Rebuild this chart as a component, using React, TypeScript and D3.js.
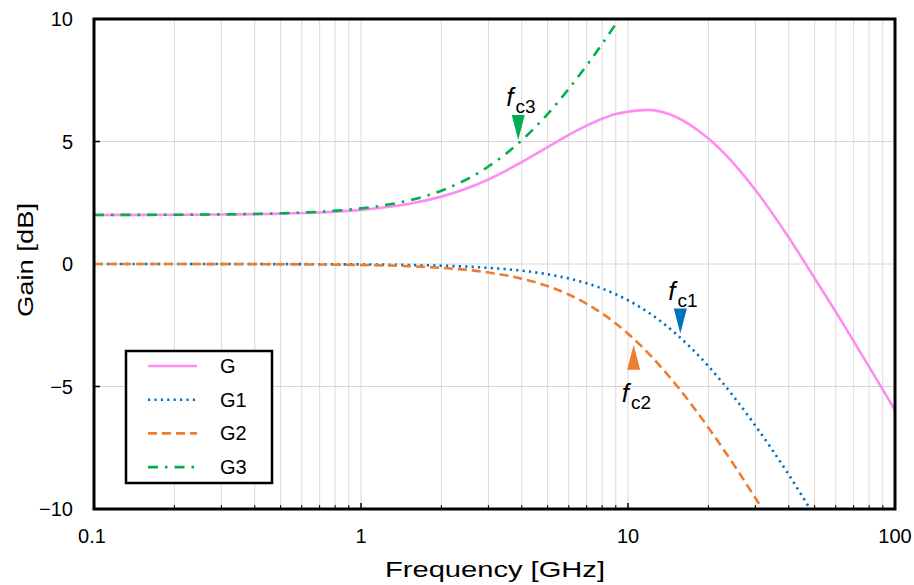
import React from "react";
import * as d3 from "d3";

const freqG = [0.1, 0.2, 0.3, 0.5, 0.7, 1, 1.5, 2, 3, 4, 5, 6, 7, 8, 9, 10, 12, 15, 20, 25, 30, 40, 50, 60, 70, 80, 100];
const gainG = [2.0, 2.01, 2.02, 2.055, 2.105, 2.21, 2.45, 2.75, 3.45, 4.16, 4.77, 5.27, 5.65, 5.93, 6.12, 6.22, 6.29, 6.02, 5.12, 4.08, 3.02, 1.08, -0.58, -1.95, -3.15, -4.2, -5.96];

const freqG1 = [0.1, 0.2, 0.3, 0.5, 0.7, 1, 1.5, 2, 3, 4, 5, 6, 7, 8, 9, 10, 12, 15, 20, 25, 30, 40, 50];
const gainG1 = [0, 0, -0.002, -0.004, -0.009, -0.018, -0.039, -0.07, -0.156, -0.273, -0.419, -0.592, -0.787, -1.003, -1.235, -1.479, -1.999, -2.816, -4.17, -5.44, -6.6, -8.6, -10.3];

const freqG2 = [0.1, 0.2, 0.3, 0.5, 0.7, 1, 1.5, 2, 3, 4, 5, 6, 7, 8, 9, 10, 12, 15, 20, 25, 30, 40];
const gainG2 = [0, -0.002, -0.004, -0.01, -0.02, -0.04, -0.089, -0.158, -0.347, -0.599, -0.903, -1.247, -1.623, -2.019, -2.428, -2.844, -3.676, -4.88, -6.68, -8.22, -9.55, -11.75];

const freqG3 = [0.1, 0.2, 0.3, 0.5, 0.7, 1, 1.5, 2, 3, 4, 5, 6, 7, 8, 9, 10];
const gainG3 = [2.003, 2.011, 2.025, 2.069, 2.134, 2.27, 2.585, 2.991, 3.978, 5.05, 6.12, 7.15, 8.1, 8.98, 9.8, 10.55];

const xTickLabels = ["0.1", "1", "10", "100"];
const xTickValues = [0.1, 1, 10, 100];
const yTickValues = [-10, -5, 0, 5, 10];
const yTickLabels = ["\u221210", "\u22125", "0", "5", "10"];

// markers: frequency, gain at tip, direction
const markerNames = ["c3", "c1", "c2"];
const markerFreq = [3.88, 15.7, 10.5];
const markerGain = [5.06, -2.84, -3.3];
const markerDir = ["down", "down", "up"];

const legendNames = ["G", "G1", "G2", "G3"];

const W = 914, H = 585;
const L = 94, R = 895, T = 19, B = 509;
const FONT = "'Liberation Sans', Arial, sans-serif";

const colors = ["#FF8CF2", "#0070C0", "#ED7D31", "#00B050"];
const dashes = ["none", "2.2,4.2", "9,5", "10,7,2.5,7"];

export default function App() {
  const x = d3.scaleLog().domain([0.1, 100]).range([L, R]);
  const y = d3.scaleLinear().domain([-10, 10]).range([B, T]);

  const minor: number[] = [];
  for (let d = -1; d < 2; d++) {
    for (let k = 1; k <= 9; k++) minor.push(k * Math.pow(10, d));
  }
  minor.push(100);

  const line = (fs: number[], gs: number[]) =>
    d3.line<number>()
      .x((_, i) => x(fs[i]))
      .y((g) => y(g))
      .curve(d3.curveMonotoneX)(gs) || "";

  const series = [
    [freqG, gainG],
    [freqG1, gainG1],
    [freqG2, gainG2],
    [freqG3, gainG3],
  ];
  const markerColors = [colors[3], colors[1], colors[2]];

  return (
    <svg width={W} height={H} style={{ position: "absolute", left: 0, top: 0 }} fontFamily={FONT}>
      <rect x={0} y={0} width={W} height={H} fill="#fff" />
      <defs>
        <clipPath id="plot">
          <rect x={L} y={T} width={R - L} height={B - T} />
        </clipPath>
      </defs>
      {/* grid */}
      {minor.map((v, i) => (
        <line key={"gx" + i} x1={x(v)} x2={x(v)} y1={T} y2={B} stroke="#dadada" strokeWidth={1} />
      ))}
      {yTickValues.map((v, i) => (
        <line key={"gy" + i} x1={L} x2={R} y1={y(v)} y2={y(v)} stroke="#d6d6d6" strokeWidth={1} />
      ))}
      {/* ticks */}
      {minor.map((v, i) => {
        const major = xTickValues.includes(v);
        return <line key={"tx" + i} x1={x(v)} x2={x(v)} y1={B} y2={B - (major ? 6 : 4)} stroke="#000" strokeWidth={major ? 1.5 : 1} />;
      })}
      {yTickValues.map((v, i) => (
        <line key={"ty" + i} x1={L} x2={L + 6} y1={y(v)} y2={y(v)} stroke="#000" strokeWidth={1.5} />
      ))}
      {/* series */}
      <g clipPath="url(#plot)">
        {series.map((s, i) => (
          <path key={"s" + i} d={line(s[0], s[1])} fill="none" stroke={colors[i]} strokeWidth={2.6}
            strokeDasharray={dashes[i]} />
        ))}
      </g>
      {/* frame */}
      <rect x={L} y={T} width={R - L} height={B - T} fill="none" stroke="#000" strokeWidth={3} />
      {/* tick labels */}
      {xTickValues.map((v, i) => (
        <text key={"xl" + i} x={x(v) - (i === 0 ? 2 : 0)} y={543} fontSize={20} textAnchor="middle" fill="#000">{xTickLabels[i]}</text>
      ))}
      {yTickValues.map((v, i) => (
        <text key={"yl" + i} x={73} y={y(v) + 7} fontSize={20} textAnchor="end" fill="#000">{yTickLabels[i]}</text>
      ))}
      {/* axis titles */}
      <text x={385} y={577} fontSize={22} textLength={220} lengthAdjust="spacingAndGlyphs" fill="#000">Frequency [GHz]</text>
      <text transform={`translate(33,317) rotate(-90)`} fontSize={22} textLength={114} lengthAdjust="spacingAndGlyphs" fill="#000">Gain [dB]</text>
      {/* markers */}
      {markerNames.map((n, i) => {
        const tx = x(markerFreq[i]);
        const ty = y(markerGain[i]);
        const dir = markerDir[i];
        const h = 25, w = 13;
        const baseY = dir === "down" ? ty - h : ty + h;
        const pts = `${tx},${ty} ${tx - w / 2},${baseY} ${tx + w / 2},${baseY}`;
        const labelY = dir === "down" ? baseY - 9 : baseY + 32;
        return (
          <g key={"m" + i}>
            <polygon points={pts} fill={markerColors[i]} />
            <text x={tx - 12} y={labelY} fill="#000">
              <tspan fontSize={26} fontStyle="italic">f</tspan>
              <tspan fontSize={19} dx={2} dy={7}>{n}</tspan>
            </text>
          </g>
        );
      })}
      {/* legend */}
      <rect x={126} y={351} width={146} height={132} fill="#fff" stroke="#000" strokeWidth={2.5} />
      {legendNames.map((n, i) => {
        const ly = 366 + i * 33.7;
        return (
          <g key={"lg" + i}>
            <line x1={148} x2={197} y1={ly} y2={ly} stroke={colors[i]} strokeWidth={2.6} strokeDasharray={dashes[i]} />
            <text x={220} y={ly + 7} fontSize={20} fill="#000">{n}</text>
          </g>
        );
      })}
    </svg>
  );
}
